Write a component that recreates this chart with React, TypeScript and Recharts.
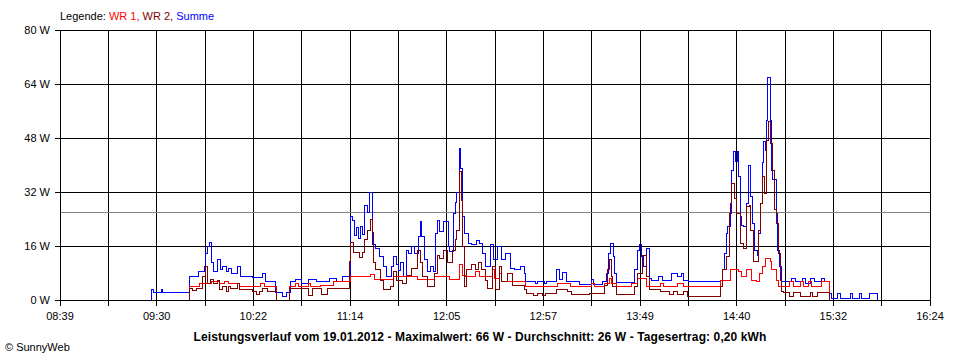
import { LineChart, Line, XAxis, YAxis, CartesianGrid, ReferenceLine } from 'recharts'

const tickLabels = ['08:39', '09:30', '10:22', '11:14', '12:05', '12:57', '13:49', '14:40', '15:32', '16:24']
const yTicks = [0, 16, 32, 48, 64, 80]
const spanMinutes = 465 // 08:39 .. 16:24
const averageW = 26

// [minutes since 08:39, watts]
const summe: [number, number][] = [
  [49, 0], [49, 3], [50, 2.2], [54, 3], [55, 2.2],
  [69, 6.9], [74, 8.4], [77, 9.9], [78, 13.9], [79, 15.8], [80, 16.9], [81, 11], [82, 8.4], [84, 12], [86, 8.9],
  [87, 10], [89, 8.4], [90, 9.2], [91.5, 8], [95, 10], [96.5, 6.9], [103, 6.8], [108, 8], [110, 5.4], [115, 2.2],
  [119, 1], [121, 2.2], [123, 5.4], [126, 6], [129, 5], [133, 6], [137, 5.4], [139, 5.6], [144, 6.5], [148, 5.4],
  [151, 6.9], [155, 24.7], [156.5, 23.5], [157.5, 19], [158.5, 21.5], [159.5, 18.3], [160.5, 21.7], [161.5, 19.5],
  [163, 28.1], [164.5, 26], [165.5, 31.8], [167, 16.3], [168.5, 15.3], [171, 12.8], [173, 9.9], [174.5, 6.9],
  [177, 9.9], [178, 12.8], [180, 10.5], [181, 8.8], [182, 11], [183.5, 6.9], [185, 14.8], [186.5, 13.8], [188, 16],
  [189.5, 13.8], [191.5, 18.8], [192.5, 23.2], [193, 18.8], [195, 11.9], [196.5, 8.4], [198, 9.8], [199.5, 8.4],
  [200.5, 19.8], [202, 23.7], [203, 20.3], [205, 23.2], [207.5, 15.8], [208, 14.3], [210.5, 25.7], [211.5, 29],
  [212, 32], [213.5, 45], [214, 39], [215, 24.7], [216, 19.8], [218.5, 16.8], [220, 16.3], [222.5, 17.5],
  [224, 16.8], [226, 13.8], [227.5, 9.9], [230, 16.3], [231.5, 11.9], [234, 15.8], [236, 11.9], [238, 13.8],
  [241, 9.4], [243, 8.9], [246, 10], [248, 8], [249, 5.6], [254, 4.9], [255, 5.6], [259, 4.9], [260, 5.6],
  [265.5, 8.9], [267, 6], [268.5, 8.1], [270.5, 5.6], [277.5, 4.6], [284, 6], [285, 4.6], [290, 5.4], [292, 8],
  [293, 13.9], [294, 16.8], [296, 12.8], [296.5, 8], [297.5, 5.1], [307, 8.9], [308.5, 14.8], [309.5, 16.3],
  [311, 12.8], [312, 9.9], [313.5, 15.3], [315, 6.5], [316, 5.9], [320, 7], [322, 5.9], [327, 8], [330, 7],
  [332, 8], [333, 5.9], [336, 5.6], [353, 5.7], [354, 8.9], [355, 13.9], [356, 19.8], [357, 21.7], [358.5, 28.6],
  [359, 38.5], [360, 43.9], [361, 41], [362, 43.9], [362.5, 36.5], [363.5, 24.7], [364.5, 22.2], [365.5, 21.7],
  [367, 28.6], [368, 40], [369, 30.6], [370, 22.8], [371, 14.8], [373, 13.3], [373.5, 19.8], [374.5, 28.6],
  [375.5, 40.6], [376, 46.9], [377, 44.4], [377.5, 53.3], [378, 66], [379.5, 53.3], [380.5, 38.5], [381, 35.6],
  [383, 25.7], [383.5, 14.8], [384.5, 9.9], [385.5, 5.4], [391, 6.5], [393, 5.4], [397, 6.5], [398.5, 5],
  [401, 6.5], [403, 5.4], [407, 6.5], [408.5, 5.4], [411.5, 2], [412.5, 0.3], [415.5, 2], [417, 0.3],
  [422.5, 2], [423.5, 0.3], [427.5, 2], [428.5, 0.3], [432.5, 2], [437, 0],
]

const wr1: [number, number][] = [
  [69, 0], [69, 3.9], [74.5, 4.9], [81, 5.6], [85.5, 4.9], [88, 5.6], [90, 4.9], [96, 3.9], [107, 4.9],
  [109.5, 3.9], [115.5, 0], [122.5, 3.9], [126, 4.9], [127.5, 3.9], [133, 4.9], [134, 3.9], [139, 4.4],
  [146, 5.4], [155, 6.9], [166, 7.6], [168, 6.1], [178, 6.9], [191, 6.1], [200, 6.9], [208, 6.1], [213.5, 10.4],
  [215, 7.4], [216.5, 6.9], [222, 8.4], [224, 6.9], [231, 8.9], [232, 6.4], [235, 8], [236, 5.4], [249, 4.1],
  [266, 4.9], [273, 4.1], [284, 4.9], [285.5, 4.1], [291, 4.9], [293.5, 6.4], [295, 4.9], [297.5, 4.1],
  [305.5, 4.9], [308.5, 6.4], [313.5, 4.1], [321, 4.9], [322.5, 4.1], [330, 4.9], [333, 4.1], [353, 5.9],
  [358.5, 8.9], [362.5, 8.4], [364, 6.9], [367, 8.9], [369.5, 5.9], [372.5, 5.4], [374, 8], [375.5, 9.9],
  [377, 12.4], [379.5, 11.4], [380.5, 8.9], [383, 5.9], [384, 4.1], [390, 5.4], [392, 4.1], [396, 5.4],
  [397.5, 4.1], [400, 5.4], [401.5, 4.1], [407, 5.4], [411.5, 0],
]

const wr2: [number, number][] = [
  [69, 0], [69, 3.5], [71, 2.8], [73, 3.5], [76, 6.9], [77.5, 10], [79, 4.9], [80.5, 6], [82, 4.9], [84, 5.9],
  [85.5, 3], [87, 3.9], [89, 2.5], [90, 3.9], [91, 3.5], [95, 4.9], [96, 3], [103, 2.5], [105, 1.5], [106.5, 2.5],
  [108, 3.5], [111, 2.5], [115.5, 0], [122.5, 3.5], [133, 1.2], [135, 3.5], [140, 1.5], [143, 3.5], [154.5, 11.4],
  [155.5, 16.9], [157, 14], [160, 12.5], [161.5, 14], [163, 17.8], [164.5, 20.7], [166, 23.9], [167, 20],
  [167.5, 11], [168.5, 8.9], [171.5, 5.9], [173, 3], [176.5, 3.9], [178, 8.4], [180, 5.9], [183, 4.9], [185, 7.4],
  [188, 9.4], [191, 14.8], [192.5, 11], [194, 6.9], [196.5, 3.9], [200, 8], [201.5, 13.3], [203, 12.4],
  [205, 14.8], [207, 11], [210, 14.8], [211.5, 17.8], [212, 20.7], [213.5, 38], [214.5, 29.6], [215, 15.8],
  [216, 3.9], [217.5, 8.9], [220, 10.5], [222, 8.9], [223.5, 11], [225.5, 8.9], [227.5, 5.9], [228.5, 3.5],
  [231, 9.9], [232.5, 3], [235, 9.9], [236, 5.4], [239, 7.9], [242, 4.4], [248, 3], [249.5, 2], [253, 1.2],
  [255, 2], [258, 1.2], [259.5, 2], [265.5, 3], [271, 2.4], [273.5, 1.5], [283, 2], [291, 4.4], [292.5, 8.9],
  [293.5, 11.9], [295, 7], [295.5, 3.9], [297.5, 1.5], [307, 3.9], [308.5, 8], [311.5, 13.3], [313.5, 6.9],
  [315, 3], [321, 2.5], [326, 1.5], [328, 2.5], [330, 1.5], [333, 2.5], [335.5, 1], [353, 3.9], [354, 8.9],
  [356, 12.8], [358, 25.7], [359, 34.6], [360.5, 30], [361.5, 25.7], [363.5, 16.8], [365.5, 15.3], [367, 27.7],
  [368.5, 28.1], [369, 20.7], [370.5, 11.4], [373.5, 20.7], [374.5, 28.6], [375.5, 36.5], [376.5, 31.6],
  [377.5, 47.4], [378.5, 52.8], [379.5, 48], [380, 46.5], [381, 38.5], [382, 26.7], [383, 22.7], [384, 13.8],
  [385, 5.9], [385.5, 2.5], [386.5, 2.2], [390, 1], [392, 2.2], [396, 1], [401, 2.2], [402, 1], [405, 2.2],
  [411.5, 0],
]

const gridTicks = Array.from({ length: 19 }, (_, i) => (i * spanMinutes) / 18)
const toRows = (pts: [number, number][]) => pts.map(([t, w]) => ({ t, w }))

const font = '"Liberation Sans", Arial, sans-serif'

export default function App() {
  return (
    <div style={{ position: 'relative', width: 960, height: 360, background: '#fff', fontFamily: font }}>
      <style>{`body{margin:0} .recharts-surface path, .recharts-surface line{shape-rendering:crispEdges}`}</style>
      <div style={{ position: 'absolute', left: 60, top: 10, fontSize: 11, lineHeight: '13px', whiteSpace: 'nowrap' }}>
        Legende: <span style={{ color: '#ff0000' }}>WR 1,</span> <span style={{ color: '#800000' }}>WR 2,</span>{' '}
        <span style={{ color: '#0000ff' }}>Summe</span>
      </div>
      <LineChart width={960} height={360} margin={{ top: 30, right: 30, bottom: 30, left: 5 }}>
        <CartesianGrid stroke="#000" strokeOpacity={1} />
        <XAxis
          dataKey="t"
          type="number"
          domain={[0, spanMinutes]}
          ticks={gridTicks}
          interval={0}
          height={30}
          stroke="#000"
          tickSize={6}
          tickMargin={6}
          tick={{ fill: '#000', fontSize: 11, fontFamily: font }}
          tickFormatter={(_v, i) => (i % 2 === 0 ? tickLabels[i / 2] : '')}
        />
        <YAxis
          type="number"
          domain={[0, 80]}
          ticks={yTicks}
          interval={0}
          width={55}
          stroke="#000"
          tickSize={5}
          tickMargin={5}
          tick={{ fill: '#000', fontSize: 11, fontFamily: font }}
          tickFormatter={(v) => `${v} W`}
        />
        <ReferenceLine y={averageW} stroke="#808080" />
        <Line data={toRows(summe)} dataKey="w" type="stepAfter" stroke="#0000ff" strokeWidth={1} dot={false} isAnimationActive={false} />
        <Line data={toRows(wr1)} dataKey="w" type="stepAfter" stroke="#ff0000" strokeWidth={1} dot={false} isAnimationActive={false} />
        <Line data={toRows(wr2)} dataKey="w" type="stepAfter" stroke="#800000" strokeWidth={1} dot={false} isAnimationActive={false} />
      </LineChart>
      <div style={{ position: 'absolute', left: 0, width: 960, top: 330, textAlign: 'center', fontSize: 12, letterSpacing: 0.1, fontWeight: 'bold', lineHeight: '14px', whiteSpace: 'nowrap' }}>
        Leistungsverlauf vom 19.01.2012 - Maximalwert: 66 W - Durchschnitt: 26 W - Tagesertrag: 0,20 kWh
      </div>
      <div style={{ position: 'absolute', left: 5, top: 341, fontSize: 11, lineHeight: '13px', whiteSpace: 'nowrap' }}>
        © SunnyWeb
      </div>
    </div>
  )
}
